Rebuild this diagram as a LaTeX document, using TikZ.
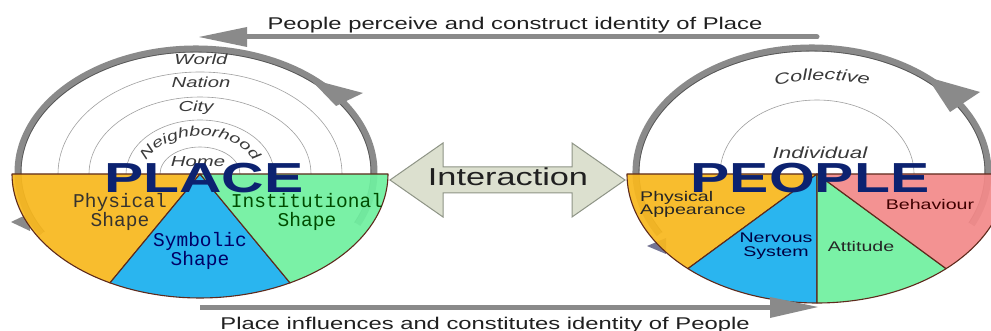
\documentclass[tikz,border=0pt]{standalone}
\usepackage{fontspec}
\usepackage{graphicx}
\setmainfont{Liberation Sans}[FakeStretch=1.4]
\newfontfamily\monof{Liberation Mono}
\usetikzlibrary{decorations.text}
\newcommand\myfs[1]{\fontsize{#1}{#1}\selectfont}
\definecolor{yellowc}{HTML}{F8B81F}
\definecolor{bluec}{HTML}{1AB0EE}
\definecolor{greenc}{HTML}{70F0A0}
\definecolor{redc}{HTML}{F38A8A}
\definecolor{navyc}{HTML}{0C2270}
\definecolor{ringgray}{HTML}{8A8A8A}
\definecolor{ringdark}{HTML}{505050}
\definecolor{secline}{HTML}{5E2A1C}
\definecolor{arrowfill}{HTML}{DCE0CF}
\definecolor{arrowline}{HTML}{8E9486}
\definecolor{labgray}{HTML}{3A3A3A}
\definecolor{txtc}{HTML}{202020}
\begin{document}
\begin{tikzpicture}[x=1pt,y=-1pt,
  ring/.style={line width=7pt, draw=ringgray},
  ringline/.style={line width=0.6pt, draw=ringdark},
  sector/.style={draw=secline, line width=1.1pt, fill opacity=0.93, line join=round},
  arcline/.style={draw=gray!75, line width=0.6pt},
  bar/.style={line width=5pt, draw=ringgray},
  headfill/.style={fill=ringgray},
  bigword/.style={font=\bfseries\myfs{42}, text=navyc, inner sep=0pt, anchor=base},
  ringlabel/.style={font=\itshape\myfs{14.5}, text=labgray, inner sep=0pt, anchor=base},
  monolabel/.style={font=\monof\myfs{19.5}, align=center, inner sep=0pt},
  sanslabel/.style={font=\myfs{14}, inner sep=0pt},
  caption/.style={font=\myfs{17}, text=txtc, inner sep=0pt, anchor=base}]
\useasboundingbox (0,0) rectangle (991,331);
\clip (0,0) rectangle (991,331);
\fill[white] (0,0) rectangle (991,331);

% ---------- centres ----------
\coordinate (LC) at (200,174);
\coordinate (RC) at (817,174);
\coordinate (LR) at (196,172);
\coordinate (RR) at (812,172);

% ---------- rings (behind) ----------
\fill[ringgray] (11,222) -- (30,213) -- (30,231) -- cycle;
\fill[ringgray!80!blue!60!gray] (647,246) -- (666,238) -- (666,254) -- cycle;
\draw[ring] (LR) ++(150:178 and 123) arc[start angle=150, end angle=385, x radius=178, y radius=123];
\draw[ringline] (LR) ++(150:175 and 120) arc[start angle=150, end angle=385, x radius=175, y radius=120];
\fill[ringgray] (310,79) -- (363,93) -- (336,106) -- cycle;
\draw[ring] (RR) ++(150:176 and 124) arc[start angle=150, end angle=385, x radius=176, y radius=124];
\draw[ringline] (RR) ++(150:173 and 121) arc[start angle=150, end angle=385, x radius=173, y radius=121];
\fill[ringgray] (927,77) -- (980,92) -- (950,112) -- cycle;

% ---------- concentric arcs (Place) ----------
\foreach \rx/\ry in {142/102, 111/77, 74/54, 40/27}
  \draw[arcline] (LC) ++(180:\rx\space and \ry) arc[start angle=180, end angle=360, x radius=\rx, y radius=\ry];
% ---------- inner arc (People) ----------
\draw[arcline] (RC) ++(180:97 and 74) arc[start angle=180, end angle=360, x radius=97, y radius=74];

% ---------- ring labels ----------
\node[ringlabel] (world) at (201,65) {World};
\node[ringlabel] (nation) at (201,88) {Nation};
\node[ringlabel] (city) at (196,112) {City};
\node[ringlabel] (home) at (198,167) {Home};
\path[decorate, decoration={text along path, text align=center,
   text format delimiters={|}{|},
   text={|\itshape\myfs{14}\color{labgray}|Neighborhood}}]
   (LC) ++(185:57 and 38) arc[start angle=185, end angle=355, x radius=57, y radius=38];
\path[decorate, decoration={text along path, text align=center,
   text format delimiters={|}{|},
   text={|\itshape\myfs{15.5}\color{labgray}|Collective}}]
   (822,282) ++(245:202) arc[start angle=245, end angle=295, radius=202];
\node[ringlabel, font=\itshape\myfs{16}] (indiv) at (820,159) {Individual};

% ---------- Place sectors ----------
\filldraw[sector, fill=yellowc] (LC) -- ++(180:188 and 124) arc[start angle=180, end angle=118.6, x radius=188, y radius=124] -- cycle;
\filldraw[sector, fill=bluec] (LC) -- ++(118.6:188 and 124) arc[start angle=118.6, end angle=61.4, x radius=188, y radius=124] -- cycle;
\filldraw[sector, fill=greenc] (LC) -- ++(61.4:188 and 124) arc[start angle=61.4, end angle=0, x radius=188, y radius=124] -- cycle;

% ---------- People sectors ----------
\filldraw[sector, fill=yellowc] (RC) -- ++(180:190 and 129) arc[start angle=180, end angle=132.8, x radius=190, y radius=129] -- cycle;
\filldraw[sector, fill=bluec] (RC) -- ++(132.8:190 and 129) arc[start angle=132.8, end angle=90, x radius=190, y radius=129] -- cycle;
\filldraw[sector, fill=greenc] (RC) -- ++(90:190 and 129) arc[start angle=90, end angle=47.2, x radius=190, y radius=129] -- cycle;
\filldraw[sector, fill=redc] (RC) -- ++(47.2:190 and 129) arc[start angle=47.2, end angle=0, x radius=190, y radius=129] -- cycle;

% ---------- big words ----------
\node[bigword] (place) at (204,193) {PLACE};
\node[bigword] (people) at (810,193) {PEOPLE};

% ---------- sector labels ----------
\node[monolabel, text=black!85!yellow!60!black] (phys) at (120,212) {Physical\\Shape};
\node[monolabel, text=blue!40!black] (symb) at (200,251) {Symbolic\\Shape};
\node[monolabel, text=green!30!black] (inst) at (307,212) {Institutional\\Shape};
\node[sanslabel, text=black!85, align=left, anchor=west] (app) at (640,204.5) {Physical\\[-0.5pt]Appearance};
\node[sanslabel, text=blue!25!black, align=center] (nerv) at (776,246) {Nervous\\[-0.5pt]System};
\node[sanslabel, text=black!85] (att) at (861,246) {Attitude};
\node[sanslabel, text=red!25!black] (beh) at (930,204) {Behaviour};

% ---------- interaction arrow ----------
\filldraw[fill=arrowfill, draw=arrowline, line width=1pt, line join=miter]
  (390,180) -- (443,143) -- (443,167) -- (572,167) -- (572,143) -- (625,180)
  -- (572,217) -- (572,193) -- (443,193) -- (443,217) -- cycle;
\node[font=\myfs{24.5}, text=txtc, inner sep=0pt, anchor=base] (inter) at (508,186) {Interaction};

% ---------- top and bottom arrows ----------
\coordinate (topR) at (817,37);
\coordinate (topL) at (240,37);
\coordinate (botL) at (200,307);
\coordinate (botR) at (775,307);
\draw[bar, line cap=round] (topR) -- (topL);
\fill[ringgray] (199,37) -- (247,27) -- (247,47) -- cycle;
\draw[bar] (botL) -- (botR);
\fill[ringgray] (818,307) -- (770,297) -- (770,318) -- cycle;
\node[caption] (toptext) at (515,30) {People perceive and construct identity of Place};
\node[caption] (bottext) at (485,329) {Place influences and constitutes identity of People};
\end{tikzpicture}
\end{document}
